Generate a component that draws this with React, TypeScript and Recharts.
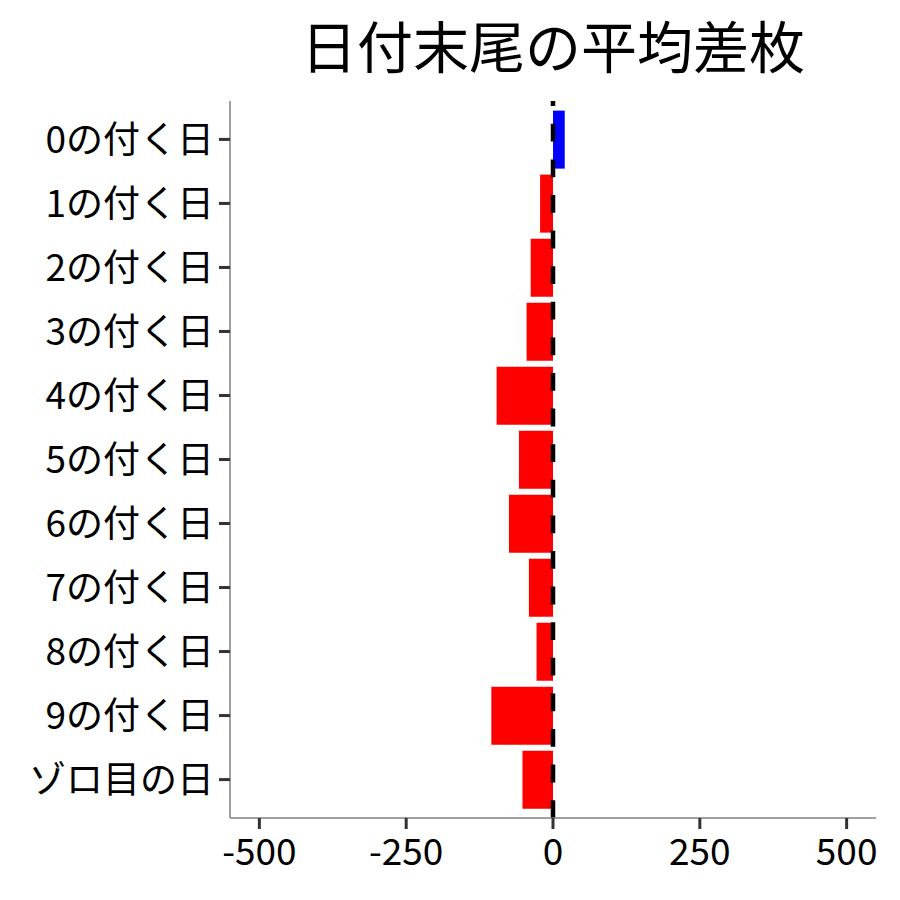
import React from "react";
import { BarChart, Bar, XAxis, YAxis, Cell, ReferenceLine } from "recharts";

const categories = ["0の付く日", "1の付く日", "2の付く日", "3の付く日", "4の付く日", "5の付く日", "6の付く日", "7の付く日", "8の付く日", "9の付く日", "ゾロ目の日"];
const values = [20, -22, -38, -45, -96, -58, -75, -41, -28, -105, -52];
const xTicks = [-500, -250, 0, 250, 500];
const title = "日付末尾の平均差枚";

const data = categories.map((name, i) => ({ name, value: values[i] }));

const FONT = "'Noto Sans CJK JP', 'Noto Sans', sans-serif";

export default function App() {
  return (
    <div style={{ position: "absolute", left: 0, top: 0, width: 900, height: 900, background: "#fff" }}>
      <div
        style={{
          position: "absolute",
          left: 230,
          width: 646,
          top: 9,
          textAlign: "center",
          fontFamily: FONT,
          fontSize: 56,
          lineHeight: "70px",
          color: "#000",
        }}
      >
        {title}
      </div>
      <BarChart
        width={900}
        height={900}
        data={data}
        layout="vertical"
        margin={{ top: 101, right: 24, bottom: 12, left: 0 }}
        barCategoryGap="5%"
      >
        <XAxis
          type="number"
          domain={[-550, 550]}
          ticks={xTicks}
          allowDataOverflow
          height={70}
          axisLine={{ stroke: "#808080", strokeWidth: 1.5 }}
          tickLine={{ stroke: "#333", strokeWidth: 3 }}
          tickSize={11}
          tick={{ fill: "#000", fontSize: 37, fontFamily: FONT }}
          tickMargin={10}
        />
        <YAxis
          type="category"
          dataKey="name"
          width={230}
          padding={{ top: 6.4, bottom: 6.4 }}
          axisLine={{ stroke: "#808080", strokeWidth: 1.5 }}
          tickLine={{ stroke: "#333", strokeWidth: 3 }}
          tickSize={11}
          tickMargin={5}
          tick={{ fill: "#000", fontSize: 37, fontFamily: FONT }}
          interval={0}
        />
        <Bar dataKey="value" isAnimationActive={false}>
          {data.map((d, i) => (
            <Cell key={i} fill={d.value >= 0 ? "#0000FF" : "#FF0000"} />
          ))}
        </Bar>
        <ReferenceLine x={0} stroke="#000" strokeWidth={4.5} strokeDasharray="17.8 17.8" />
      </BarChart>
    </div>
  );
}
